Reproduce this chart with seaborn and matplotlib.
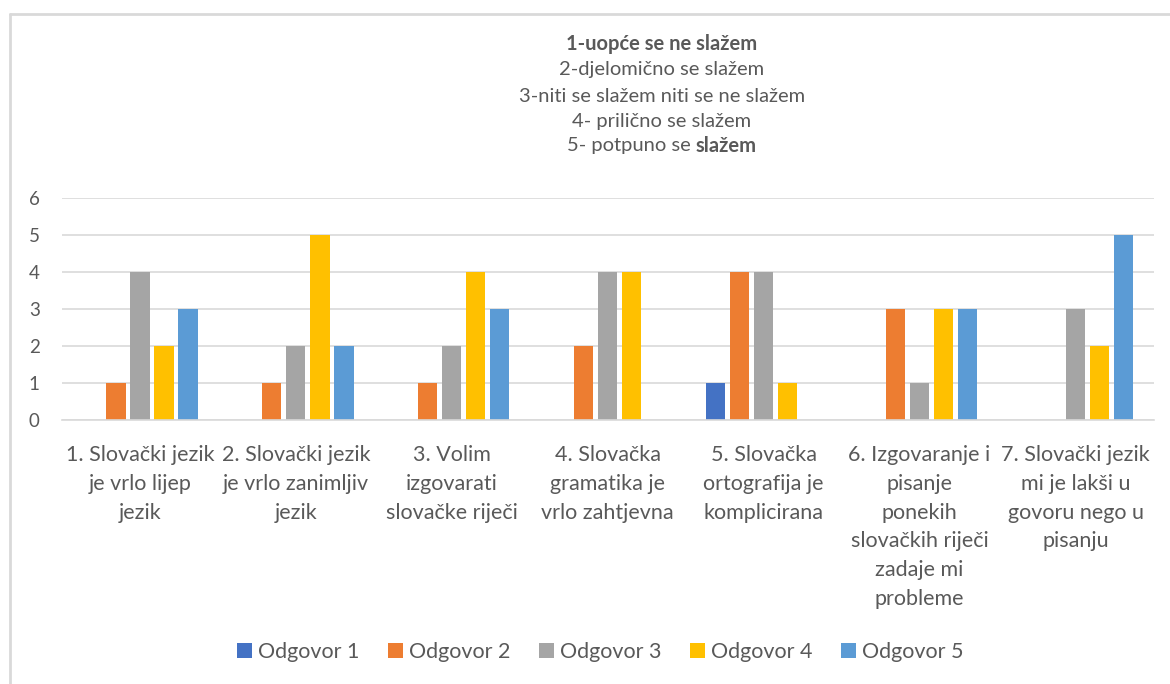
import numpy as np
import pandas as pd
import matplotlib
matplotlib.use("Agg")
import matplotlib.pyplot as plt
from matplotlib.lines import Line2D
import seaborn as sns

# ── data ──────────────────────────────────────────────────────────────────────
categories = [
    "1. Slovački jezik\nje vrlo lijep\njezik",
    "2. Slovački jezik\nje vrlo zanimljiv\njezik",
    "3. Volim\nizgovarati\nslovačke riječi",
    "4. Slovačka\ngramatika je\nvrlo zahtjevna",
    "5. Slovačka\nortografija je\nkomplicirana",
    "6. Izgovaranje i\npisanje\nponekih\nslovačkih riječi\nzadaje mi\nprobleme",
    "7. Slovački jezik\nmi je lakši u\ngovoru nego u\npisanju",
]
series = ["Odgovor 1", "Odgovor 2", "Odgovor 3", "Odgovor 4", "Odgovor 5"]
odgovor_1 = [0, 0, 0, 0, 1, 0, 0]
odgovor_2 = [1, 1, 1, 2, 4, 3, 0]
odgovor_3 = [4, 2, 2, 4, 4, 1, 3]
odgovor_4 = [2, 5, 4, 4, 1, 3, 2]
odgovor_5 = [3, 2, 3, 0, 0, 3, 5]
yticks = [0, 1, 2, 3, 4, 5, 6]

colors = ["#4472C4", "#ED7D31", "#A5A5A5", "#FFC000", "#5B9BD5"]
TXT = "#595959"
GRID = "#D9D9D9"

rows = []
for name, vals in zip(series, [odgovor_1, odgovor_2, odgovor_3, odgovor_4, odgovor_5]):
    for cat, v in zip(categories, vals):
        rows.append({"pitanje": cat, "odgovor": name, "broj": v})
df = pd.DataFrame(rows)

sns.set_style("white")
plt.rcParams["font.family"] = ["Lato", "DejaVu Sans"]

fig = plt.figure(figsize=(11.7, 6.84), dpi=100)
ax = fig.add_axes([62 / 1170, 1 - 420 / 684, (1153.5 - 62) / 1170, (420 - 198) / 684])

sns.barplot(data=df, x="pitanje", y="broj", hue="odgovor", order=categories,
            hue_order=series, palette=colors, width=0.77, gap=0.2,
            saturation=1, linewidth=0, ax=ax)

ax.set_ylim(0, 6)
ax.set_xlim(-0.5, len(categories) - 0.5)
ax.set_yticks(yticks)
ax.yaxis.grid(True, color=GRID, linewidth=1.2)
ax.set_axisbelow(True)
for s in ["top", "right", "left"]:
    ax.spines[s].set_visible(False)
ax.spines["bottom"].set_color(GRID)
ax.spines["bottom"].set_linewidth(1.2)
ax.tick_params(axis="both", length=0, colors=TXT)
ax.tick_params(axis="y", pad=16, labelsize=13.5)
ax.tick_params(axis="x", pad=18, labelsize=15.5)
for lab in ax.get_xticklabels():
    lab.set_linespacing(1.55)
ax.set_xlabel("")
ax.set_ylabel("")

# legend
handles, labels = ax.get_legend_handles_labels()
ax.get_legend().remove()
fig.legend(handles, labels, loc="center", bbox_to_anchor=(0.513, 0.047), ncol=5,
           frameon=False, handlelength=0.7, handleheight=0.7, handletextpad=0.3,
           columnspacing=1.3, fontsize=15.5, labelcolor=TXT)

# title block (mixed bold)
cx = 662 / 1170
lines = [("1-uopće se ne slažem", "bold"),
         ("2-djelomično se slažem", "normal"),
         ("3-niti se slažem niti se ne slažem", "normal"),
         ("4- prilično se slažem", "normal")]
ys = [44, 69, 96, 121]
for (txt, w), y in zip(lines, ys):
    fig.text(cx, 1 - y / 684, txt, ha="center", va="center", fontsize=14.5,
             fontweight=w, color=TXT)

t1 = fig.text(0, 1 - 146 / 684, "5- potpuno se ", ha="left", va="center",
              fontsize=14.5, color=TXT)
t2 = fig.text(0, 1 - 146 / 684, "slažem", ha="left", va="center",
              fontsize=14.5, fontweight="bold", color=TXT)
fig.canvas.draw()
r = fig.canvas.get_renderer()
w1 = t1.get_window_extent(r).width / 1170
w2 = t2.get_window_extent(r).width / 1170
x0 = cx - (w1 + w2) / 2
t1.set_x(x0)
t2.set_x(x0 + w1)

# chart border (left/top visible)
fig.add_artist(Line2D([10 / 1170, 10 / 1170], [0, 1 - 14 / 684],
                      transform=fig.transFigure, color=GRID, linewidth=2))
fig.add_artist(Line2D([10 / 1170, 1], [1 - 14 / 684, 1 - 14 / 684],
                      transform=fig.transFigure, color=GRID, linewidth=2))

fig.savefig("out.png", dpi=100, facecolor="white")
